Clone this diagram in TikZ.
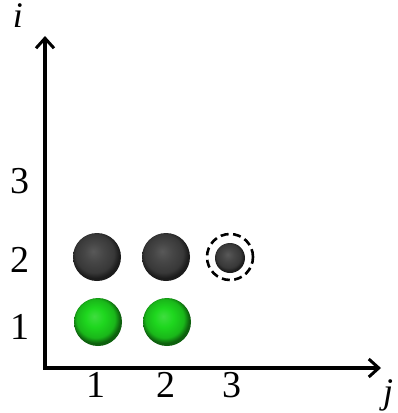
\documentclass[tikz,border=0pt]{standalone}
\usepackage{fontspec}
\setmainfont{Liberation Serif}
\usetikzlibrary{arrows.meta, positioning}
\definecolor{ballgreen}{RGB}{30, 215, 30}
\definecolor{balldark}{RGB}{70, 70, 70}
\pgfdeclareradialshading{greenorb}{\pgfpoint{-4bp}{6bp}}{color(0bp)=(ballgreen!85!white); color(10bp)=(ballgreen); color(20bp)=(ballgreen!85!black); color(25bp)=(ballgreen!45!black); color(50bp)=(ballgreen!45!black)}
\pgfdeclareradialshading{darkorb}{\pgfpoint{-4bp}{6bp}}{color(0bp)=(balldark!90!white); color(10bp)=(balldark); color(20bp)=(balldark!80!black); color(25bp)=(balldark!40!black); color(50bp)=(balldark!40!black)}

\begin{document}
\begin{tikzpicture}[x=1pt, y=-1pt,
    axis/.style={line width=3.4pt, -{Straight Barb[length=10pt, width=18pt, line width=3pt]}},
    lbl/.style={font=\fontsize{38}{40}\selectfont, inner sep=0pt},
    greenball/.style={circle, minimum size=48pt, inner sep=0pt, shading=greenorb},
    darkball/.style={circle, minimum size=48pt, inner sep=0pt, shading=darkorb},
    smallball/.style={circle, minimum size=30pt, inner sep=0pt, shading=darkorb},
    ring/.style={circle, draw, line width=2.6pt, dash pattern=on 8pt off 4.5pt, minimum size=46pt, inner sep=0pt}]
  \useasboundingbox (0,0) rectangle (398,413);
  % axes
  \coordinate (O) at (45,368);
  \coordinate (itop) at (45,36);
  \coordinate (jend) at (381,368);
  \draw[axis] ([yshift=1.7pt]O) -- (itop);
  \draw[axis] ([xshift=-1.7pt]O) -- (jend);
  \node[lbl, font=\fontsize{36}{40}\selectfont\itshape, anchor=base] (ilbl) at (18,27) {i};
  \node[lbl, font=\fontsize{36}{40}\selectfont\itshape, anchor=base] (jlbl) at (388,403) {j};
  % tick labels
  \node[lbl] (j1) at (96,385) {1};
  \node[lbl] (j2) at (166,385) {2};
  \node[lbl] (j3) at (232,385) {3};
  \node[lbl] (i1) at (20,327) {1};
  \node[lbl] (i2) at (20,260) {2};
  \node[lbl] (i3) at (20,181) {3};
  % balls
  \node[greenball] (g11) at (98,322) {};
  \node[greenball] (g12) at (167,322) {};
  \node[darkball] (d21) at (97,257) {};
  \node[darkball] (d22) at (166,257) {};
  \node[smallball] (d23) at (230,258) {};
  \node[ring] (r23) at (230,257) {};
\end{tikzpicture}
\end{document}
